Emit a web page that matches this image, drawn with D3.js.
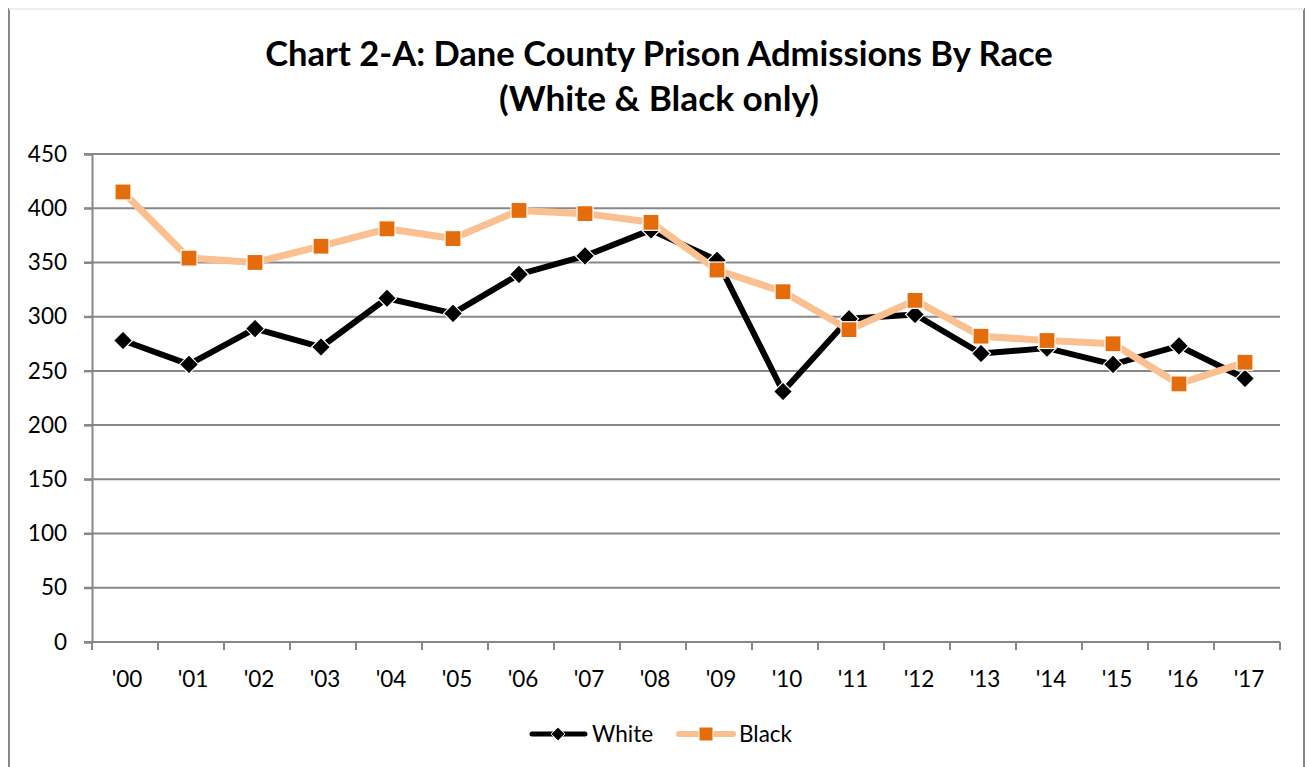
<!DOCTYPE html>
<html>
<head>
<meta charset="utf-8">
<script src="https://cdn.jsdelivr.net/npm/d3@7"></script>
<style>
  body { margin: 0; background: #fff; }
  text { font-family: Lato, "Open Sans", sans-serif; }
</style>
</head>
<body>
<div class="chart"></div>
<script>
// data
var years = ["'00", "'01", "'02", "'03", "'04", "'05", "'06", "'07", "'08",
             "'09", "'10", "'11", "'12", "'13", "'14", "'15", "'16", "'17"];
var white = [278, 256, 289, 272, 317, 303, 339, 356, 380,
             352, 231, 298, 302, 266, 271, 256, 273, 243];
var black = [415, 354, 350, 365, 381, 372, 398, 395, 387,
             343, 323, 288, 315, 282, 278, 275, 238, 258];
var yTicks = [0, 50, 100, 150, 200, 250, 300, 350, 400, 450];

var svgWidth = 1309, svgHeight = 767;
var margin = { top: 154, right: 29, bottom: 125, left: 92 };
var chartWidth = svgWidth - margin.left - margin.right;
var chartHeight = svgHeight - margin.top - margin.bottom;

var gridColor = "#878787";

var svg = d3.select(".chart")
    .append("svg")
    .attr("width", svgWidth)
    .attr("height", svgHeight);

// outer chart border
svg.append("rect")
    .attr("x", 9).attr("y", 9)
    .attr("width", 1295).attr("height", 780)
    .attr("fill", "none")
    .attr("stroke", gridColor)
    .attr("stroke-width", 2);
svg.append("line")
    .attr("x1", 9).attr("x2", 1304).attr("y1", 9).attr("y2", 9)
    .attr("stroke", "#eeeeee").attr("stroke-width", 2);

// title, fitted to the reference width
function fitText(sel, width) {
    var w = sel.node().getComputedTextLength();
    var fs = parseFloat(sel.attr("font-size"));
    sel.attr("font-size", fs * width / w);
}
var t1 = svg.append("text")
    .attr("x", 659).attr("y", 66)
    .attr("text-anchor", "middle")
    .attr("font-weight", "bold")
    .attr("font-size", 32)
    .text("Chart 2-A: Dane County Prison Admissions By Race");
fitText(t1, 788);
var t2 = svg.append("text")
    .attr("x", 659).attr("y", 111)
    .attr("text-anchor", "middle")
    .attr("font-weight", "bold")
    .attr("font-size", 32)
    .text("(White & Black only)");
fitText(t2, 320);

var chartGroup = svg.append("g")
    .attr("transform", `translate(${margin.left}, ${margin.top})`);

// scales
var xScale = d3.scaleBand()
    .domain(years)
    .range([0, chartWidth]);
var yScale = d3.scaleLinear()
    .domain([0, 450])
    .range([chartHeight, 0]);

// gridlines
chartGroup.append("g")
    .selectAll("line")
    .data(yTicks)
    .enter()
    .append("line")
    .attr("x1", -8)
    .attr("x2", chartWidth)
    .attr("y1", d => yScale(d))
    .attr("y2", d => yScale(d))
    .attr("stroke", gridColor)
    .attr("stroke-width", 2);

// y axis
var yAxis = d3.axisLeft(yScale).tickValues(yTicks).tickSize(8).tickPadding(17);
var yAxisG = chartGroup.append("g").call(yAxis);
yAxisG.select(".domain").attr("stroke", gridColor).attr("stroke-width", 2);
yAxisG.selectAll(".tick line").attr("stroke", gridColor).attr("stroke-width", 2);
yAxisG.selectAll("text")
    .attr("font-size", 22.5)
    .attr("fill", "#000")
    .style("font-family", "Lato, sans-serif");

// x axis: ticks between categories
var xAxisG = chartGroup.append("g")
    .attr("transform", `translate(0, ${chartHeight})`);
xAxisG.append("line")
    .attr("x1", 0).attr("x2", chartWidth)
    .attr("stroke", gridColor).attr("stroke-width", 2);
xAxisG.selectAll(".xtick")
    .data(years.concat(["end"]))
    .enter()
    .append("line")
    .attr("x1", (d, i) => i < years.length ? xScale(d) : chartWidth)
    .attr("x2", (d, i) => i < years.length ? xScale(d) : chartWidth)
    .attr("y1", 0).attr("y2", 8)
    .attr("stroke", gridColor).attr("stroke-width", 2);
xAxisG.selectAll(".xlabel")
    .data(years)
    .enter()
    .append("text")
    .attr("x", d => xScale(d) + xScale.bandwidth() / 2 + 2)
    .attr("y", 45)
    .attr("text-anchor", "middle")
    .attr("font-size", 22.5)
    .text(d => d);

var cx = d => xScale(d) + xScale.bandwidth() / 2 - 2;

// lines
var line = d3.line()
    .x((d, i) => cx(years[i]))
    .y(d => yScale(d));

chartGroup.append("path")
    .datum(white)
    .attr("d", line)
    .attr("fill", "none")
    .attr("stroke", "#000")
    .attr("stroke-width", 6)
    .attr("stroke-linejoin", "round");

chartGroup.append("path")
    .datum(black)
    .attr("d", line)
    .attr("fill", "none")
    .attr("stroke", "#FAC090")
    .attr("stroke-width", 7)
    .attr("stroke-linejoin", "round");

// markers
var diamond = d3.symbol().type(d3.symbolDiamond2).size(230);
chartGroup.append("g")
    .selectAll("path")
    .data(white)
    .enter()
    .append("path")
    .attr("d", diamond)
    .attr("transform", (d, i) => `translate(${cx(years[i])}, ${yScale(d)})`)
    .attr("fill", "#000")
    .attr("stroke", "#fff")
    .attr("stroke-width", 1.2);

chartGroup.append("g")
    .selectAll("rect")
    .data(black)
    .enter()
    .append("rect")
    .attr("x", (d, i) => cx(years[i]) - 8)
    .attr("y", d => yScale(d) - 8)
    .attr("width", 16)
    .attr("height", 16)
    .attr("fill", "#E46C0A")
    .attr("stroke", "#fff")
    .attr("stroke-width", 1.2);

// legend
var legend = svg.append("g").attr("transform", "translate(0, 734)");
legend.append("line")
    .attr("x1", 532).attr("x2", 585)
    .attr("stroke", "#000").attr("stroke-width", 5).attr("stroke-linecap", "round");
legend.append("path")
    .attr("d", d3.symbol().type(d3.symbolDiamond2).size(120))
    .attr("transform", "translate(558, 0)")
    .attr("fill", "#000").attr("stroke", "#fff").attr("stroke-width", 1);
legend.append("text")
    .attr("x", 592).attr("y", 8)
    .attr("font-size", 22.5)
    .text("White");
legend.append("line")
    .attr("x1", 679).attr("x2", 733)
    .attr("stroke", "#FAC090").attr("stroke-width", 6).attr("stroke-linecap", "round");
legend.append("rect")
    .attr("x", 699).attr("y", -7)
    .attr("width", 14).attr("height", 14)
    .attr("fill", "#E46C0A").attr("stroke", "#fff").attr("stroke-width", 1);
legend.append("text")
    .attr("x", 739).attr("y", 8)
    .attr("font-size", 22.5)
    .text("Black");
</script>
</body>
</html>
